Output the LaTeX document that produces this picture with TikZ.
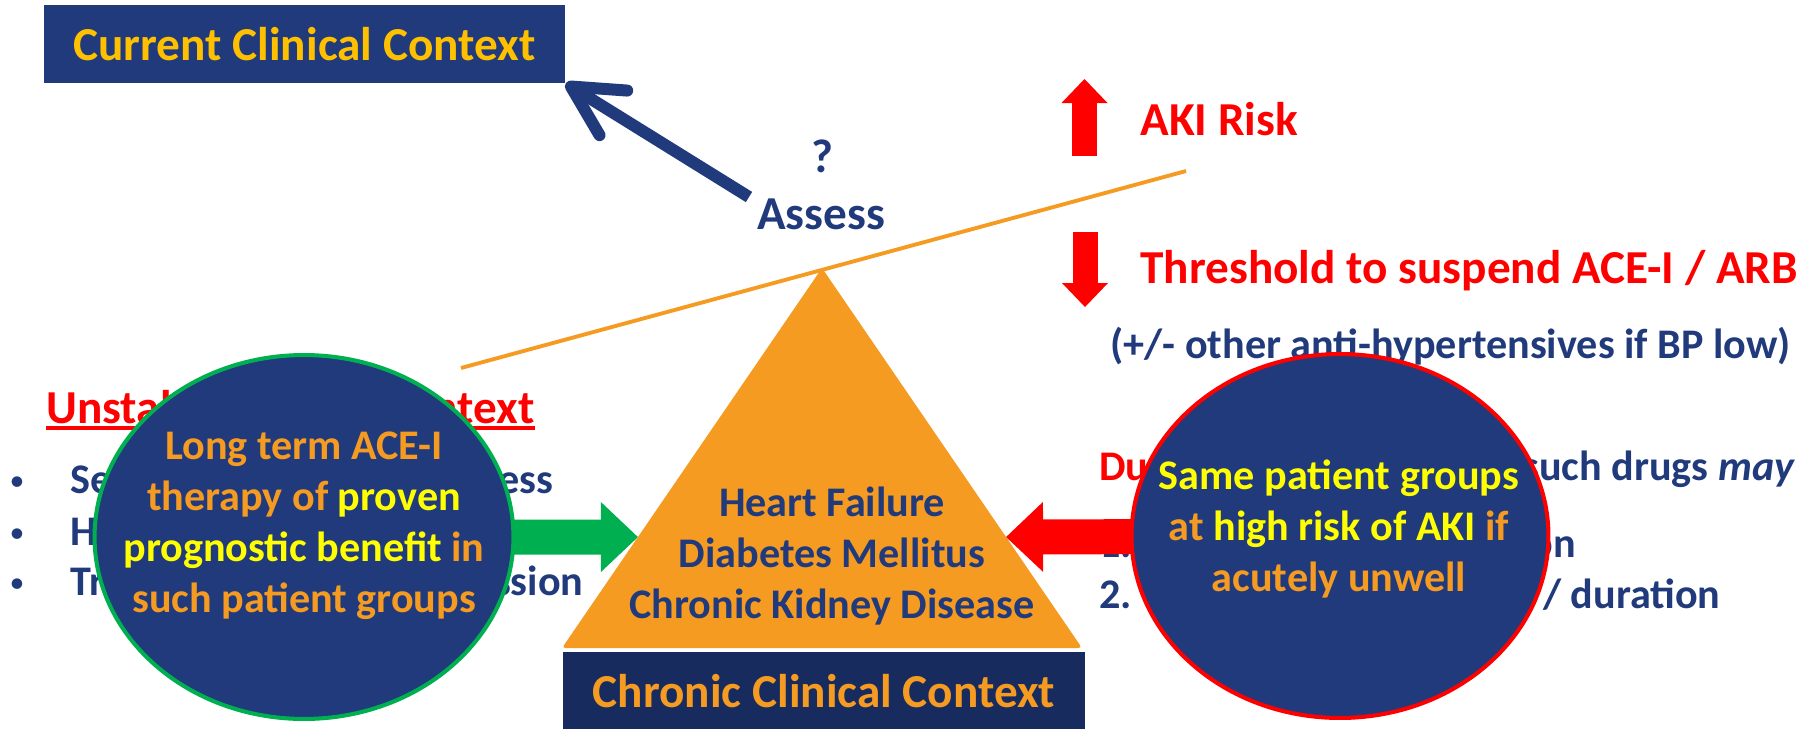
\documentclass[tikz,border=0pt]{standalone}
\usepackage{fontspec}
\setmainfont{Carlito}
\usetikzlibrary{arrows.meta,shapes.geometric,calc}
\definecolor{navy}{HTML}{203A7C}
\definecolor{deepnavy}{HTML}{182B5E}
\definecolor{gold}{HTML}{FFC000}
\definecolor{amber}{HTML}{F59B22}
\definecolor{lemon}{HTML}{FFFF00}
\definecolor{alarm}{HTML}{FF0000}
\definecolor{leaf}{HTML}{00B050}
\begin{document}
\begin{tikzpicture}[x=0.02cm,y=-0.02cm,
	big/.style={font=\bfseries\fontsize{26.9}{32}\selectfont, inner sep=0pt},
	norm/.style={font=\bfseries\fontsize{24}{29}\selectfont, inner sep=0pt},
	dot/.style={font=\fontsize{17}{20}\selectfont, text=navy, inner sep=0pt, anchor=base},
	ctxbox/.style={big, minimum width=10.44cm, minimum height=1.56cm},
	blob/.style={ellipse, fill=navy, line width=2.3pt, inner sep=0pt, minimum width=8.38cm, minimum height=7.28cm},
	fatarrow/.style={line width=0.7cm, -{Triangle[length=0.74cm,width=1.4cm,line width=0pt]}},
	riskarrow/.style={alarm, line width=0.5cm, -{Triangle[length=0.48cm,width=0.92cm,line width=0pt]}}]
	\useasboundingbox (0,0) rectangle (1816,728);
	% Waage
	\coordinate (beamL) at (461,368);
	\coordinate (beamR) at (1186,171);
	\coordinate (apex) at (822,268);
	\coordinate (bl) at (562,648);
	\coordinate (br) at (1082,648);
	\draw [amber, line width=2.2pt] (beamL) -- (beamR);
	\fill [amber, rounded corners=2pt] (apex) -- (bl) -- (br) -- cycle;
	\node [norm, text=navy, align=center] (chronicgroups) at (832,556) {Heart Failure\\Diabetes Mellitus\\Chronic Kidney Disease};
	\node [ctxbox, fill=deepnavy, text=amber, anchor=north] (chronic) at (824,652) {Chronic Clinical Context};
	% oben links
	\node [ctxbox, fill=navy, text=gold] (current) at (304.5,44) {Current Clinical Context};
	\node [big, text=navy, anchor=base] (qmark) at (822,172) {?};
	\node [big, text=navy, anchor=base] (assess) at (821,229) {Assess};
	\coordinate (atail) at (749,197);
	\draw [navy, line width=0.24cm, -{Straight Barb[length=1.0cm,width=1.05cm,line cap=round,line join=round]}] (atail) -- (current.south east);
	% AKI Risiko
	\coordinate (upfoot) at (1084.5,156);
	\coordinate (uptip) at (1084.5,79);
	\coordinate (downfoot) at (1085,232);
	\coordinate (downtip) at (1085,307);
	\draw [riskarrow] (upfoot) -- (uptip);
	\draw [riskarrow] (downfoot) -- (downtip);
	\node [big, text=alarm, anchor=base west] (akirisk) at (1140,135) {AKI Risk};
	\node [big, text=alarm, anchor=base west] (threshold) at (1140,283) {Threshold to suspend ACE-I / ARB};
	\node [norm, text=navy, anchor=base west] (bplow) at (1110,358) {(+/- other anti-hypertensives if BP low)};
	% links
	\node [big, text=alarm, anchor=base west] (unstable) at (46,423) {Unstable Clinical Context};
	\draw [alarm, line width=2.3pt] ([yshift=-2.8pt]unstable.base west) -- ([yshift=-2.8pt]unstable.base east);
	\node [dot] (dot1) at (17,490) {\textbullet};
	\node [dot] (dot2) at (17,542) {\textbullet};
	\node [dot] (dot3) at (17,592) {\textbullet};
	\node [norm, text=navy, anchor=base west] (cause1) at (70,493) {Severe sepsis / acute illness};
	\node [norm, text=navy, anchor=base west] (cause2) at (70,545) {Hypovolaemia};
	\node [norm, text=navy, anchor=base west] (cause3) at (70,595) {Trauma / surgery / admission};
	\coordinate (benefitc) at (304,537);
	\coordinate (gtip) at ($(bl)!0.292!(apex)$);
	\draw [fatarrow, leaf] (benefitc) -- (gtip);
	\node [blob, draw=leaf] (benefit) at (benefitc) {};
	\node [norm, text=amber, align=center] (benefittext) at (304,526) {Long term ACE-I\\therapy of \textcolor{lemon}{proven}\\\textcolor{lemon}{prognostic benefit} in\\such patient groups};
	% rechts
	\node [norm, text=navy, anchor=base west] (during) at (1099,480) {\textcolor{alarm}{During any acute illness} such drugs \textit{may}};
	\node [norm, text=navy, anchor=base west] (effect1) at (1099,557) {1. Reduce kidney perfusion};
	\node [norm, text=navy, anchor=base west] (effect2) at (1099,608) {2. Increase AKI's severity / duration};
	\coordinate (riskc) at (1340,536);
	\coordinate (rtip) at ($(br)!0.292!(apex)$);
	\draw [fatarrow, alarm] (riskc) -- (rtip);
	\node [blob, draw=alarm, minimum width=8.34cm] (risk) at (riskc) {};
	\node [norm, text=amber, align=center] (risktext) at (1339,529) {\textcolor{lemon}{Same patient groups}\\at \textcolor{lemon}{high risk of AKI} if\\acutely unwell};
\end{tikzpicture}
\end{document}
